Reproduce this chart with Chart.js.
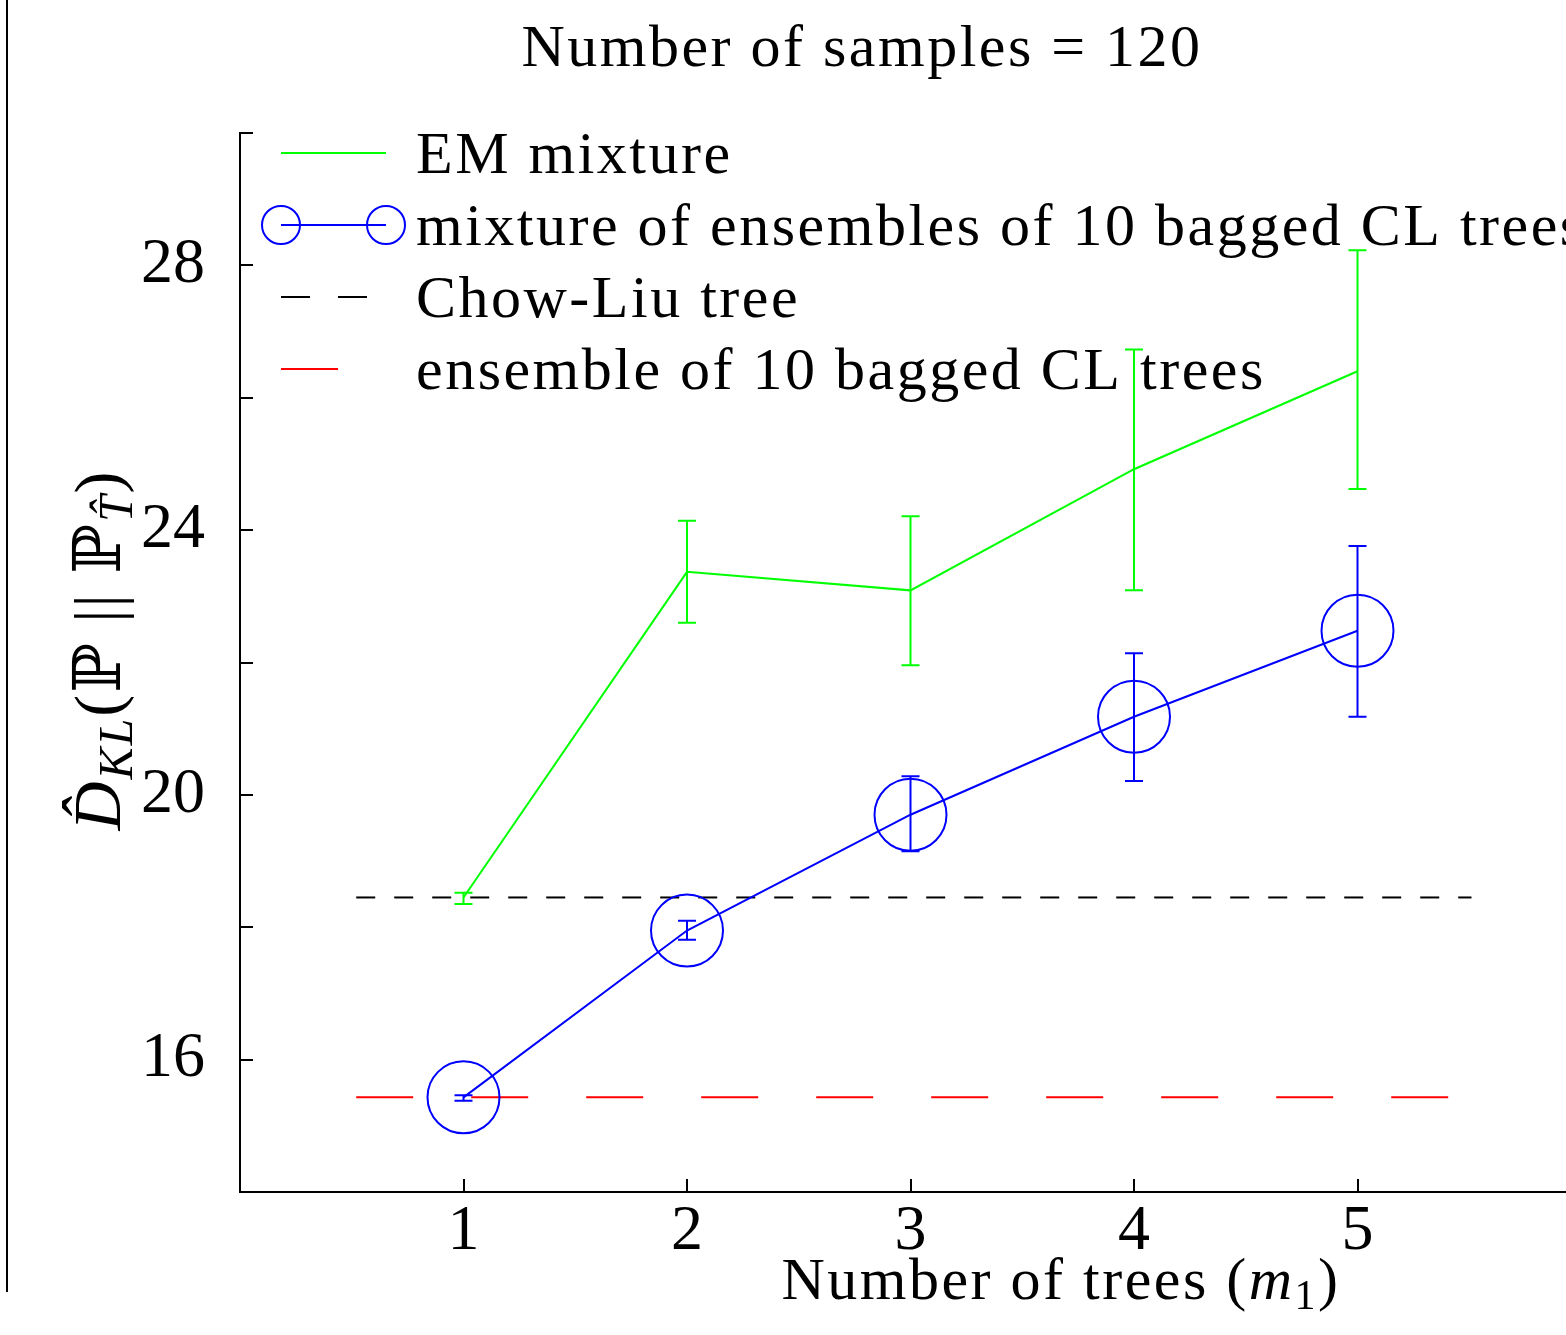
<!DOCTYPE html>
<html>
<head>
<meta charset="utf-8">
<title>Number of samples = 120</title>
<script src="https://cdn.jsdelivr.net/npm/chart.js@4.4.1/dist/chart.umd.min.js"></script>
<style>
    html, body { margin: 0; padding: 0; background: #fff; overflow: hidden; }
    #wrap { width: 1600px; height: 1335px; }
</style>
</head>
<body>
<div id="wrap"><canvas id="klChart" width="1600" height="1335" style="width:1600px;height:1335px"></canvas></div>
<script>
// ==================== data ====================
const treeCounts = [1, 2, 3, 4, 5];
const xTickValues = [1, 2, 3, 4, 5];
const yTickLabels = [16, 20, 24, 28];

// EM mixture (green) with error bars
const emMixture = [18.45, 23.37, 23.09, 24.92, 26.40];
const emLow     = [18.35, 22.60, 21.96, 23.09, 24.62];
const emHigh    = [18.52, 24.14, 24.21, 26.73, 28.23];

// mixture of ensembles of bagged CL trees (blue) with error bars
const mixEnsemble = [15.43, 17.95, 19.70, 21.18, 22.48];
const mixLow      = [15.38, 17.81, 19.15, 20.21, 21.18];
const mixHigh     = [15.46, 18.10, 20.28, 22.14, 23.76];

// horizontal reference levels
const refSpan = [0.52, 5.51];
const chowLiuKL = 18.45;
const baggedKL = 15.43;

const seriesNames = [
    'EM mixture',
    'mixture of ensembles of 10 bagged CL trees',
    'Chow-Liu tree',
    'ensemble of 10 bagged CL trees'
];

// ==================== styles ====================
const SERIF = '"Liberation Serif", "DejaVu Serif", serif';
const emColor = '#00ff00';
const mixColor = '#0000ff';
const clColor = '#000000';
const bagColor = '#ff0000';

function font(size, italic) {
    return (italic ? 'italic ' : '') + size + 'px ' + SERIF;
}

// draw a row of text runs (different fonts / baseline shifts), return width
function drawRuns(ctx, runs, x, y, measureOnly) {
    let cx = x;
    runs.forEach(r => {
        ctx.font = r.font;
        if (!measureOnly) ctx.fillText(r.t, cx, y + (r.dy || 0));
        cx += ctx.measureText(r.t).width;
    });
    return cx - x;
}

// scales keep their fixed size, no extra label padding
function fixScale(s, size) {
    if (s.isHorizontal()) s.height = size; else s.width = size;
    s.paddingLeft = 0;
    s.paddingRight = 0;
    s.paddingTop = 0;
    s.paddingBottom = 0;
}

// ==================== error bars ====================
const errorBarPlugin = {
    id: 'errorBars',
    afterDatasetsDraw(chart) {
        const { ctx, scales: { x, y } } = chart;
        const bars = [
            { low: emLow, high: emHigh, color: emColor },
            { low: mixLow, high: mixHigh, color: mixColor }
        ];
        ctx.save();
        ctx.lineWidth = 2;
        bars.forEach(b => {
            ctx.strokeStyle = b.color;
            treeCounts.forEach((t, i) => {
                const px = x.getPixelForValue(t);
                const top = y.getPixelForValue(b.high[i]);
                const bot = y.getPixelForValue(b.low[i]);
                ctx.beginPath();
                ctx.moveTo(px, top); ctx.lineTo(px, bot);
                ctx.moveTo(px - 9, top); ctx.lineTo(px + 9, top);
                ctx.moveTo(px - 9, bot); ctx.lineTo(px + 9, bot);
                ctx.stroke();
            });
        });
        ctx.restore();
    }
};

// ==================== ticks, legend, titles ====================
const decorPlugin = {
    id: 'decor',
    afterDraw(chart) {
        const { ctx, chartArea, scales: { x, y } } = chart;
        ctx.save();

        // inward tick marks
        ctx.strokeStyle = '#000';
        ctx.lineWidth = 2;
        ctx.beginPath();
        y.ticks.forEach(tk => {
            const py = Math.round(y.getPixelForValue(tk.value));
            ctx.moveTo(chartArea.left, py);
            ctx.lineTo(chartArea.left + 13, py);
        });
        x.ticks.forEach(tk => {
            const px = Math.round(x.getPixelForValue(tk.value));
            ctx.moveTo(px, chartArea.bottom);
            ctx.lineTo(px, chartArea.bottom - 13);
        });
        ctx.stroke();

        // stray frame line on the far left
        ctx.beginPath();
        ctx.moveTo(7, 0);
        ctx.lineTo(7, 1292);
        ctx.stroke();

        // legend
        const rows = [
            { y: 153, color: emColor, dash: [] },
            { y: 225, color: mixColor, dash: [], marker: true },
            { y: 297, color: clColor, dash: [29, 28] },
            { y: 369, color: bagColor, dash: [57, 58] }
        ];
        ctx.letterSpacing = '2.5px';
        rows.forEach((r, i) => {
            ctx.strokeStyle = r.color;
            ctx.lineWidth = 2;
            ctx.setLineDash(r.dash);
            ctx.beginPath();
            ctx.moveTo(281, r.y);
            ctx.lineTo(386, r.y);
            ctx.stroke();
            ctx.setLineDash([]);
            if (r.marker) {
                [281, 386].forEach(cx => {
                    ctx.beginPath();
                    ctx.arc(cx, r.y, 19, 0, Math.PI * 2);
                    ctx.stroke();
                });
            }
            ctx.fillStyle = '#000';
            ctx.textBaseline = 'alphabetic';
            ctx.font = font(60);
            ctx.fillText(seriesNames[i], 416, r.y + 20);
        });

        // title
        ctx.fillStyle = '#000';
        const titleRuns = [{ t: 'Number of samples = 120', font: font(60) }];
        const tw = drawRuns(ctx, titleRuns, 0, 0, true);
        drawRuns(ctx, titleRuns, 862 - tw / 2, 66);

        // x axis label
        const xRuns = [
            { t: 'Number of trees (', font: font(60) },
            { t: 'm', font: font(60, true) },
            { t: '1', font: font(42), dy: 10 },
            { t: ')', font: font(60) }
        ];
        const xw = drawRuns(ctx, xRuns, 0, 0, true);
        drawRuns(ctx, xRuns, 1061 - xw / 2, 1299);

        // y axis label (rotated)
        ctx.letterSpacing = '2px';
        const yRuns = [
            { t: 'D\u0302', font: font(68, true) },
            { t: 'KL', font: font(48, true), dy: 12 },
            { t: '(\u2119 || \u2119', font: font(66) },
            { t: 'T\u0302', font: font(48, true), dy: 12 },
            { t: ')', font: font(66) }
        ];
        const yw = drawRuns(ctx, yRuns, 0, 0, true);
        ctx.translate(120, 650);
        ctx.rotate(-Math.PI / 2);
        drawRuns(ctx, yRuns, -yw / 2, 0);

        ctx.restore();
    }
};

// ==================== chart ====================
const chart = new Chart(document.getElementById('klChart'), {
    type: 'line',
    data: {
        datasets: [{
            label: seriesNames[0],
            data: treeCounts.map((t, i) => ({ x: t, y: emMixture[i] })),
            borderColor: emColor,
            borderWidth: 2,
            pointRadius: 0,
            fill: false,
            tension: 0
        }, {
            label: seriesNames[1],
            data: treeCounts.map((t, i) => ({ x: t, y: mixEnsemble[i] })),
            borderColor: mixColor,
            borderWidth: 2,
            pointRadius: 36,
            pointBorderWidth: 2,
            pointBorderColor: mixColor,
            pointBackgroundColor: 'rgba(0, 0, 0, 0)',
            fill: false,
            tension: 0
        }, {
            label: seriesNames[2],
            data: refSpan.map(v => ({ x: v, y: chowLiuKL })),
            borderColor: clColor,
            borderWidth: 2,
            borderDash: [19, 19],
            pointRadius: 0,
            fill: false
        }, {
            label: seriesNames[3],
            data: refSpan.map(v => ({ x: v, y: baggedKL })),
            borderColor: bagColor,
            borderWidth: 2,
            borderDash: [57, 58],
            pointRadius: 0,
            fill: false
        }]
    },
    options: {
        responsive: false,
        animation: false,
        events: [],
        // big circle markers would otherwise add auto padding on the right
        layout: { autoPadding: false, padding: { left: 0, top: 133, right: 19, bottom: 0 } },
        plugins: {
            legend: { display: false },
            tooltip: { enabled: false }
        },
        scales: {
            x: {
                type: 'linear',
                min: 0,
                max: 6,
                afterBuildTicks: s => { s.ticks = xTickValues.map(v => ({ value: v })); },
                afterFit: s => fixScale(s, 143),
                grid: { display: false, drawTicks: false },
                border: { display: true, color: '#000', width: 2 },
                ticks: {
                    color: '#000',
                    font: { family: SERIF, size: 64 },
                    padding: 2,
                    maxRotation: 0,
                    autoSkip: false
                }
            },
            y: {
                type: 'linear',
                min: 14,
                max: 30,
                afterFit: s => fixScale(s, 240),
                grid: { display: false, drawTicks: false },
                border: { display: true, color: '#000', width: 2 },
                ticks: {
                    stepSize: 2,
                    color: '#000',
                    font: { family: SERIF, size: 64 },
                    padding: 35,
                    autoSkip: false,
                    callback: v => yTickLabels.includes(v) ? String(v) : ''
                }
            }
        }
    },
    plugins: [errorBarPlugin, decorPlugin]
});
</script>
</body>
</html>
